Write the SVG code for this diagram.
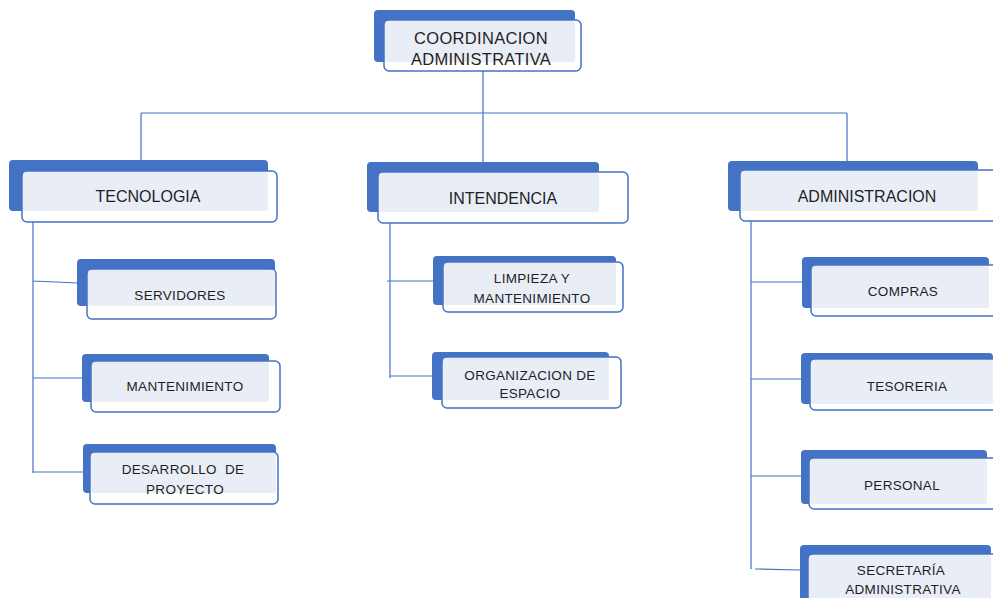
<svg xmlns="http://www.w3.org/2000/svg" width="993" height="598" viewBox="0 0 993 598">
<style>
.back{fill:#4472C4}
.front{fill:#FFFFFF;stroke:#4472C4;stroke-width:1.5}
.inner{fill:#E9EDF6}
.t{font-family:"Liberation Sans",Arial,sans-serif;fill:#1F1F1F;text-anchor:middle}
.big{font-size:16px}
.top{font-size:16.5px;letter-spacing:0.3px}
.sm{font-size:13.5px;letter-spacing:0.3px}
.c{fill:none;stroke:#4472C4;stroke-width:1.2}
</style>
<rect width="993" height="598" fill="#FFFFFF"/>
<g id="connectors">
<path class="c" d="M483 71V113M141 113H847M141 113V160M483 113V162M847 113V161"/>
<path class="c" d="M33 222V473M33 281L78 283M33 378H82M33 472H83"/>
<path class="c" d="M390 223V378M387 281H433M390 376H432"/>
<path class="c" d="M751 221V569M751 282H802M751 379H801M751 476H801M755 569L800 570"/>
</g>
<g id="coordinacion">
<rect class="back" x="374" y="10" width="201" height="52" rx="4"/>
<rect class="front" x="384" y="20" width="197" height="51" rx="5"/>
<rect class="inner" x="385" y="21" width="190" height="41" rx="3"/>
<text class="t top" x="481" y="44">COORDINACION</text>
<text class="t top" x="481" y="65">ADMINISTRATIVA</text>
</g>
<g id="tecnologia">
<rect class="back" x="9" y="160" width="259" height="51" rx="4"/>
<rect class="front" x="22" y="171" width="255" height="51" rx="5"/>
<rect class="inner" x="23" y="172" width="245" height="39" rx="3"/>
<text class="t big" x="148" y="202">TECNOLOGIA</text>
</g>
<g id="servidores">
<rect class="back" x="77" y="259" width="198" height="47" rx="4"/>
<rect class="front" x="87" y="269" width="189" height="50" rx="5"/>
<rect class="inner" x="88" y="270" width="187" height="36" rx="3"/>
<text class="t sm" x="180" y="300">SERVIDORES</text>
</g>
<g id="mantenimiento">
<rect class="back" x="82" y="354" width="187" height="48" rx="4"/>
<rect class="front" x="91" y="361" width="189" height="51" rx="5"/>
<rect class="inner" x="92" y="362" width="177" height="40" rx="3"/>
<text class="t sm" x="185" y="391">MANTENIMIENTO</text>
</g>
<g id="desarrollo">
<rect class="back" x="83" y="444" width="193" height="49" rx="4"/>
<rect class="front" x="90" y="452" width="188" height="52" rx="5"/>
<rect class="inner" x="91" y="453" width="185" height="40" rx="3"/>
<text class="t sm" x="183" y="474" xml:space="preserve">DESARROLLO  DE</text>
<text class="t sm" x="185" y="494">PROYECTO</text>
</g>
<g id="intendencia">
<rect class="back" x="367" y="162" width="232" height="50" rx="4"/>
<rect class="front" x="378" y="172" width="250" height="51" rx="5"/>
<rect class="inner" x="379" y="173" width="220" height="39" rx="3"/>
<text class="t big" x="503" y="204">INTENDENCIA</text>
</g>
<g id="limpieza">
<rect class="back" x="433" y="256" width="183" height="49" rx="4"/>
<rect class="front" x="443" y="262" width="180" height="50" rx="5"/>
<rect class="inner" x="444" y="263" width="172" height="42" rx="3"/>
<text class="t sm" x="532" y="283">LIMPIEZA Y</text>
<text class="t sm" x="532" y="303">MANTENIMIENTO</text>
</g>
<g id="organizacion">
<rect class="back" x="432" y="352" width="177" height="48" rx="4"/>
<rect class="front" x="442" y="357" width="179" height="51" rx="5"/>
<rect class="inner" x="443" y="358" width="166" height="42" rx="3"/>
<text class="t sm" x="530" y="380">ORGANIZACION DE</text>
<text class="t sm" x="530" y="398">ESPACIO</text>
</g>
<g id="administracion">
<rect class="back" x="728" y="161" width="250" height="50" rx="4"/>
<rect class="front" x="740" y="170" width="262" height="51" rx="5"/>
<rect class="inner" x="741" y="171" width="237" height="40" rx="3"/>
<text class="t big" x="867" y="202">ADMINISTRACION</text>
</g>
<g id="compras">
<rect class="back" x="802" y="257" width="187" height="51" rx="4"/>
<rect class="front" x="811" y="265" width="190" height="51" rx="5"/>
<rect class="inner" x="812" y="266" width="177" height="42" rx="3"/>
<text class="t sm" x="903" y="296">COMPRAS</text>
</g>
<g id="tesoreria">
<rect class="back" x="801" y="353" width="192" height="51" rx="4"/>
<rect class="front" x="810" y="359" width="191" height="51" rx="5"/>
<rect class="inner" x="811" y="360" width="182" height="44" rx="3"/>
<text class="t sm" x="907" y="391">TESORERIA</text>
</g>
<g id="personal">
<rect class="back" x="801" y="450" width="186" height="54" rx="4"/>
<rect class="front" x="809" y="458" width="192" height="51" rx="5"/>
<rect class="inner" x="810" y="459" width="177" height="45" rx="3"/>
<text class="t sm" x="902" y="490">PERSONAL</text>
</g>
<g id="secretaria">
<rect class="back" x="800" y="545" width="191" height="60" rx="4"/>
<rect class="front" x="808" y="554" width="193" height="60" rx="5"/>
<rect class="inner" x="809" y="555" width="182" height="50" rx="3"/>
<text class="t sm" x="901" y="575">SECRETARÍA</text>
<text class="t sm" x="903" y="594">ADMINISTRATIVA</text>
</g>
</svg>
